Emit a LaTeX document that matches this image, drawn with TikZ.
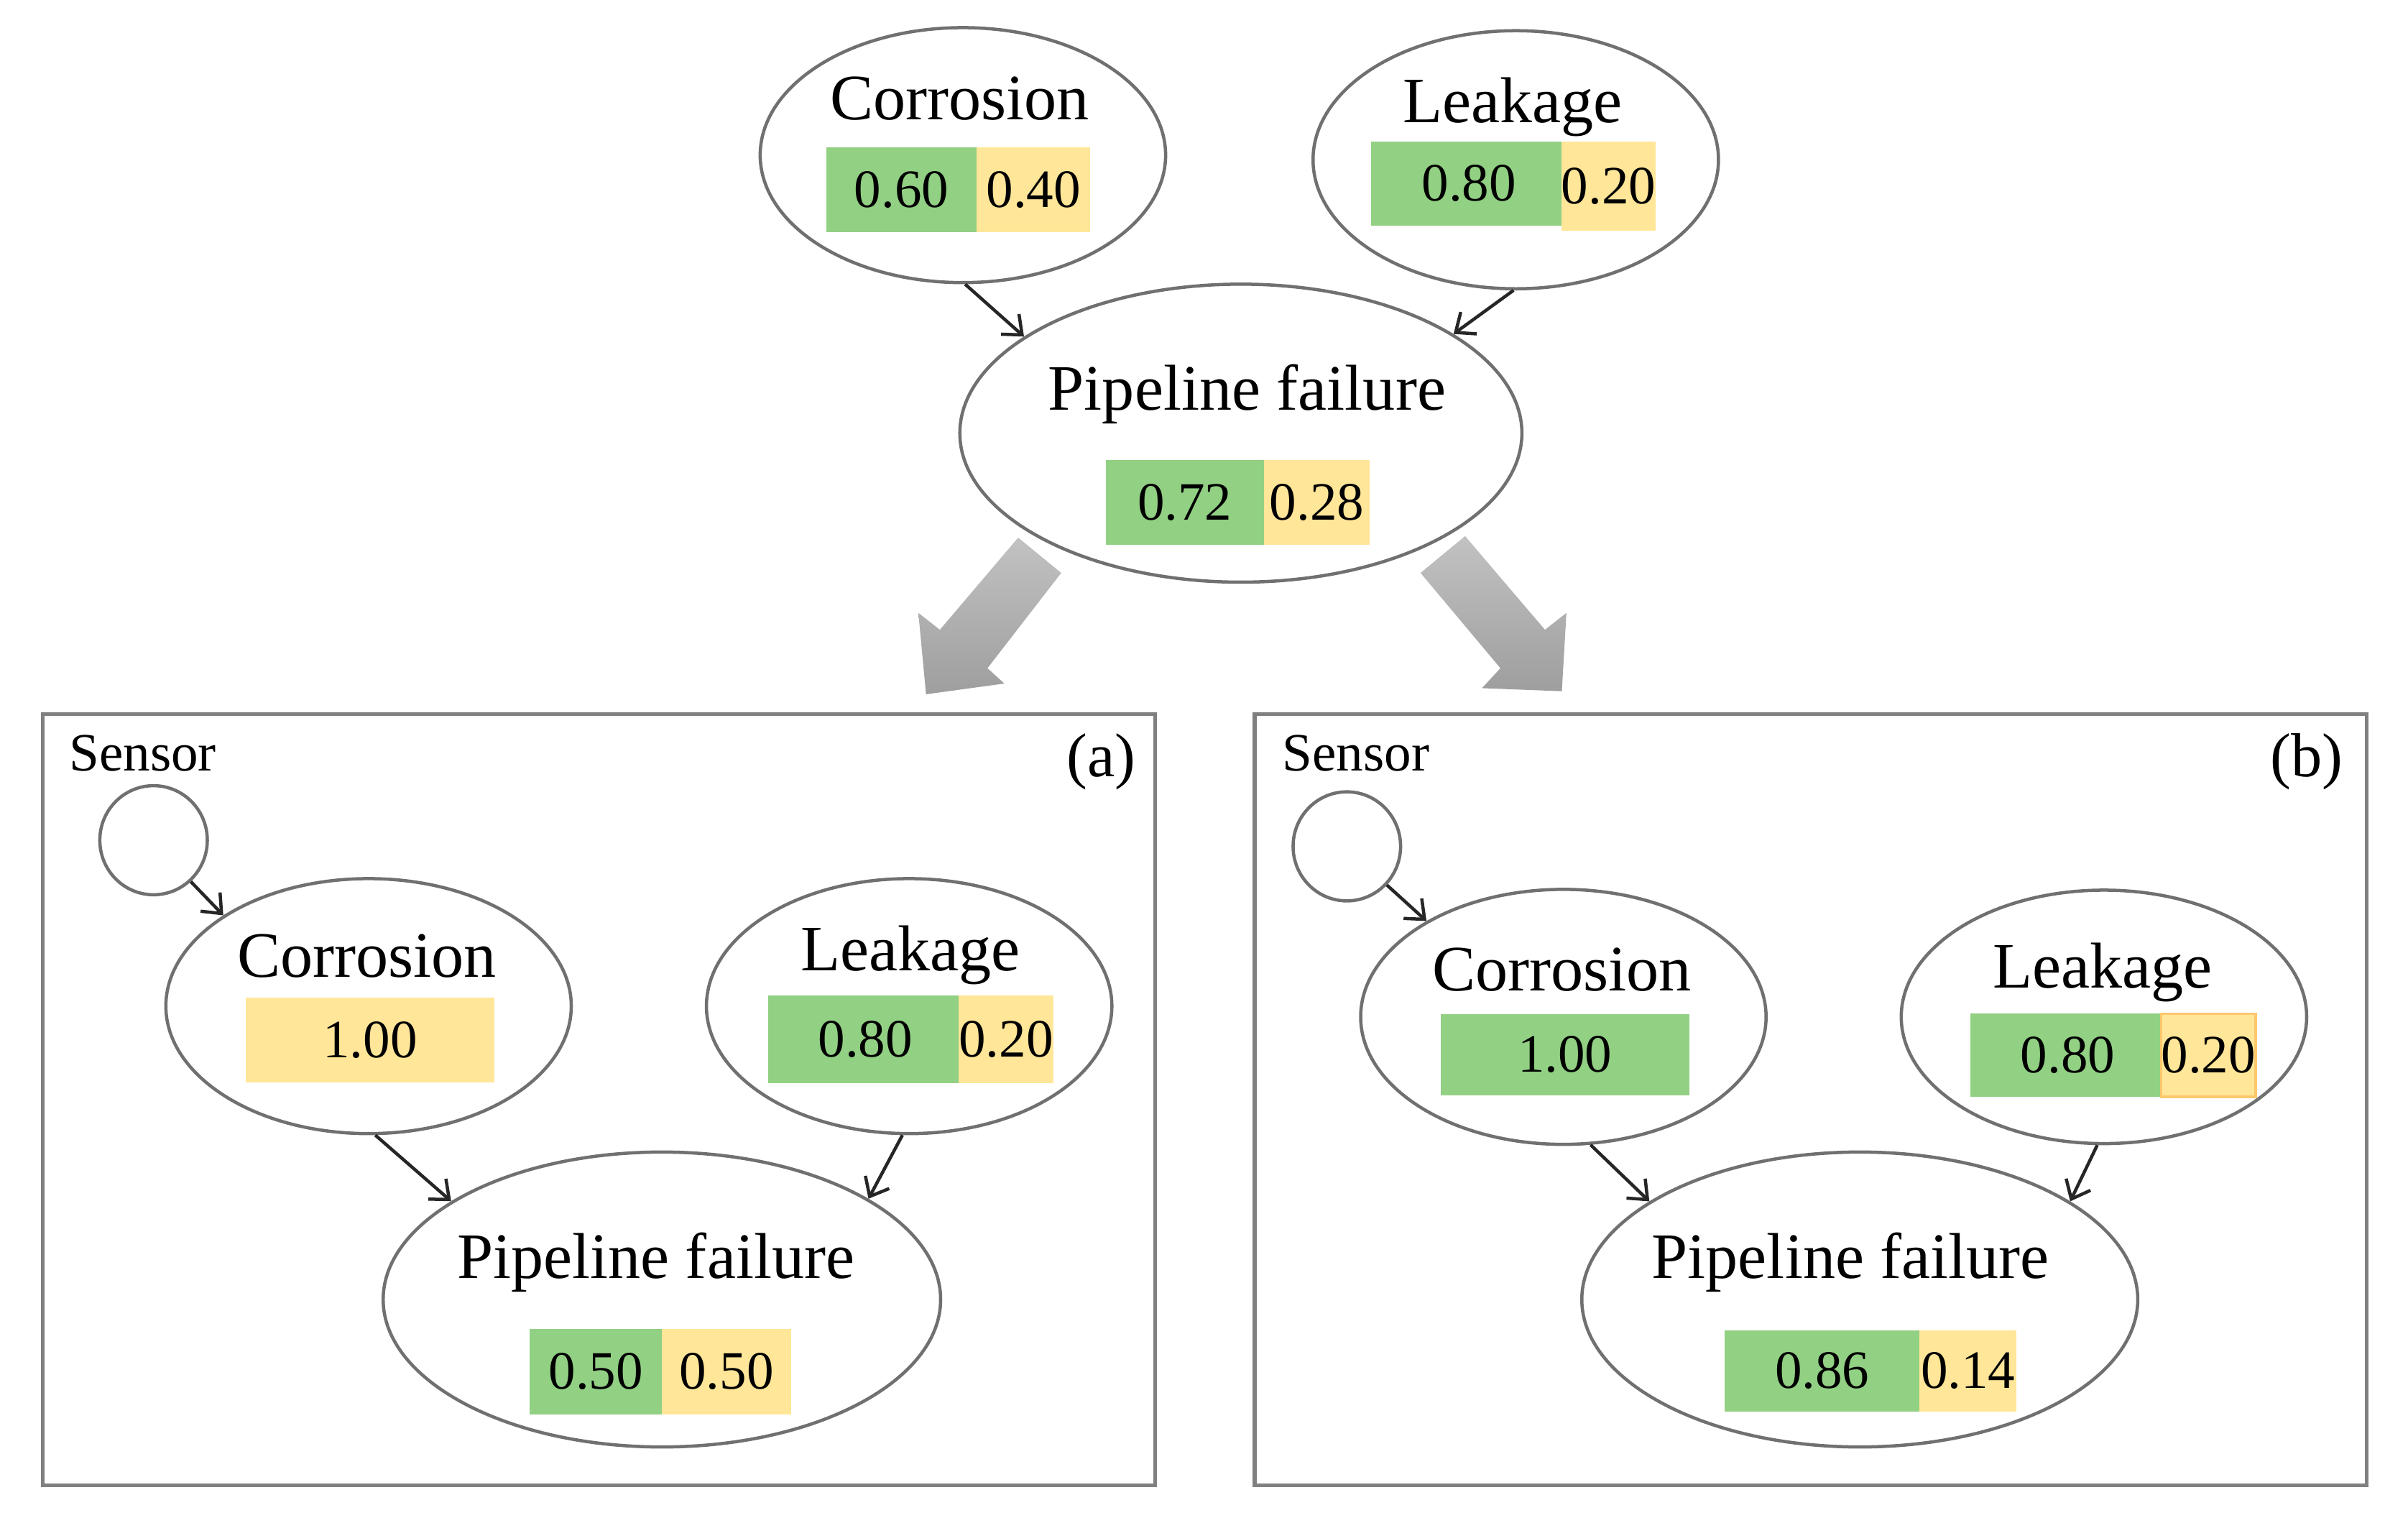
\documentclass[tikz,border=0pt]{standalone}
\usepackage{fontspec}
\setmainfont{Liberation Serif}
\usepackage{xcolor}
\usepackage{tikz}
\usetikzlibrary{shapes.geometric, arrows.meta}
\definecolor{yescol}{RGB}{146,208,132}
\definecolor{nocol}{RGB}{255,230,153}
\definecolor{edgecol}{RGB}{112,112,112}

\begin{document}
\begin{tikzpicture}[
    >={Straight Barb[length=3pt, width=5pt]},
    %% ── Base node style ──
    bnode/.style={ellipse, draw=edgecol, line width=0.6pt, inner sep=0pt},
    title/.style={anchor=base, inner sep=0pt, font=\fontsize{12}{14}\selectfont},
    %% ── Probability cells ──
    cell/.style={rectangle, inner sep=0pt, minimum height=0.55cm,
        font=\fontsize{10}{12}\selectfont},
    yes/.style={cell, fill=yescol},
    no/.style={cell, fill=nocol},
    %% ── Arrow / frame styles ──
    link/.style={->, line width=0.6pt, color=black!85},
    frame/.style={draw=black!50, line width=0.7pt},
    tag/.style={inner sep=0pt, font=\fontsize{10}{12}\selectfont},
    bigarrow/.style={top color=black!24, bottom color=black!38, draw=none},
]
\useasboundingbox (0,0) rectangle (15.68,-9.88);

% ── Prior network ──
\node[bnode, minimum width=2.64cm, minimum height=1.66cm] (cTop) at (6.27,-1.01) {};
\node[bnode, minimum width=2.64cm, minimum height=1.68cm] (lTop) at (9.87,-1.04) {};
\node[bnode, minimum width=3.66cm, minimum height=1.94cm] (pTop) at (8.08,-2.82) {};

\node[title] (cTopT) at (6.25,-0.78) {Corrosion};
\node[title] (lTopT) at (9.85,-0.80) {Leakage};
\node[title] (pTopT) at (8.12,-2.67) {Pipeline failure};

\node[yes, minimum width=0.98cm] (cTopY) at (5.87,-1.235) {0.60};
\node[no,  minimum width=0.74cm] (cTopN) at (6.73,-1.235) {0.40};
\node[yes, minimum width=1.27cm] (lTopY) at (9.565,-1.195) {0.80};
\node[no,  minimum width=0.55cm, minimum height=0.58cm] (lTopN) at (10.475,-1.21) {0.20};
\node[yes, minimum width=1.03cm] (pTopY) at (7.715,-3.27) {0.72};
\node[no,  minimum width=0.69cm] (pTopN) at (8.575,-3.27) {0.28};

\draw[link] (cTop.271) -- (pTop.156);
\draw[link] (lTop.269) -- (pTop.25);

% ── Evidence arrows ──
\shade[bigarrow] (6.63,-3.50) -- (6.91,-3.73) -- (6.43,-4.35) -- (6.54,-4.45)
    -- (6.03,-4.52) -- (5.98,-3.99) -- (6.12,-4.10) -- cycle;
\shade[bigarrow] (9.54,-3.49) -- (9.25,-3.73) -- (9.77,-4.35) -- (9.65,-4.48)
    -- (10.17,-4.50) -- (10.20,-3.99) -- (10.06,-4.10) -- cycle;

% ── Panel (a) ──
\draw[frame] (0.28,-4.65) rectangle (7.52,-9.67);
\node[tag, anchor=base] (sAT) at (0.93,-5.02) {Sensor};
\node[tag, font=\fontsize{11.5}{13}\selectfont] (aT) at (7.17,-4.96) {(a)};

\node[bnode, minimum width=0.70cm, minimum height=0.71cm] (sA) at (1.00,-5.47) {};
\node[bnode, minimum width=2.64cm, minimum height=1.66cm] (cA) at (2.40,-6.55) {};
\node[bnode, minimum width=2.64cm, minimum height=1.66cm] (lA) at (5.92,-6.55) {};
\node[bnode, minimum width=3.63cm, minimum height=1.92cm] (pA) at (4.31,-8.46) {};

\node[title] (cAT) at (2.39,-6.36) {Corrosion};
\node[title] (lAT) at (5.93,-6.32) {Leakage};
\node[title] (pAT) at (4.27,-8.32) {Pipeline failure};

\node[no,  minimum width=1.62cm] (cAN) at (2.41,-6.77) {1.00};
\node[yes, minimum width=1.27cm, minimum height=0.57cm] (lAY) at (5.635,-6.765) {0.80};
\node[no,  minimum width=0.56cm, minimum height=0.57cm] (lAN) at (6.55,-6.765) {0.20};
\node[yes, minimum width=0.86cm, minimum height=0.56cm] (pAY) at (3.88,-8.93) {0.50};
\node[no,  minimum width=0.84cm, minimum height=0.56cm] (pAN) at (4.73,-8.93) {0.50};

\draw[link] (sA.-48) -- (cA.148);
\draw[link] (cA.-87) -- (pA.155);
\draw[link] (lA.-93) -- (pA.26);

% ── Panel (b) ──
\draw[frame] (8.17,-4.65) rectangle (15.41,-9.67);
\node[tag, anchor=base] (sBT) at (8.83,-5.02) {Sensor};
\node[tag, font=\fontsize{11.5}{13}\selectfont] (bT) at (15.02,-4.96) {(b)};

\node[bnode, minimum width=0.70cm, minimum height=0.71cm] (sB) at (8.77,-5.51) {};
\node[bnode, minimum width=2.64cm, minimum height=1.66cm] (cB) at (10.18,-6.62) {};
\node[bnode, minimum width=2.64cm, minimum height=1.65cm] (lB) at (13.70,-6.62) {};
\node[bnode, minimum width=3.62cm, minimum height=1.92cm] (pB) at (12.11,-8.46) {};

\node[title] (cBT) at (10.17,-6.45) {Corrosion};
\node[title] (lBT) at (13.69,-6.43) {Leakage};
\node[title] (pBT) at (12.05,-8.32) {Pipeline failure};

\node[yes, minimum width=1.62cm, minimum height=0.53cm] (cBY) at (10.19,-6.865) {1.00};
\node[yes, minimum width=1.27cm, minimum height=0.54cm] (lBY) at (13.465,-6.87) {0.80};
\node[no,  minimum width=0.56cm, minimum height=0.54cm, draw=nocol!70!orange, line width=0.5pt] (lBN) at (14.38,-6.87) {0.20};
\node[yes, minimum width=1.27cm, minimum height=0.53cm] (pBY) at (11.865,-8.925) {0.86};
\node[no,  minimum width=0.63cm, minimum height=0.53cm] (pBN) at (12.815,-8.925) {0.14};

\draw[link] (sB.-44) -- (cB.145);
\draw[link] (cB.-78) -- (pB.155);
\draw[link] (lB.-93) -- (pB.25);

\end{tikzpicture}
\end{document}
